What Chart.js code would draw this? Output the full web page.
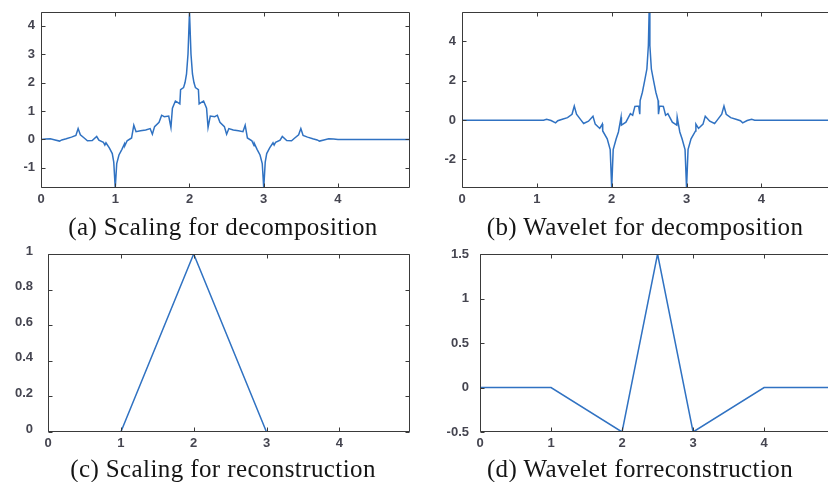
<!DOCTYPE html>
<html>
<head>
<meta charset="utf-8">
<script src="https://cdn.jsdelivr.net/npm/chart.js@4"></script>
<style>
  body { margin: 0; width: 828px; height: 482px; overflow: hidden; background: #fff; position: relative; }
  .panel { position: absolute; }
  .cap { position: absolute; font: 25px "Liberation Serif", "Times New Roman", serif; letter-spacing: 0.4px; color: #151515; white-space: nowrap; transform: translateX(-50%); line-height: 28px; }
</style>
</head>
<body>
<div class="panel" id="pa"><canvas id="ca"></canvas></div>
<div class="panel" id="pb"><canvas id="cb"></canvas></div>
<div class="panel" id="pc"><canvas id="cc"></canvas></div>
<div class="panel" id="pd"><canvas id="cd"></canvas></div>
<div class="cap" id="ta"></div>
<div class="cap" id="tb"></div>
<div class="cap" id="tc"></div>
<div class="cap" id="td"></div>
<script>
// x ticks shared by all four panels
var xTicks = [0, 1, 2, 3, 4];

// (a) decomposition scaling function
var scalingDecX = [0, 0.06, 0.125, 0.19, 0.25, 0.28, 0.34, 0.41, 0.47, 0.5, 0.53, 0.59, 0.625, 0.69, 0.75, 0.78, 0.84, 0.86, 0.875, 0.92, 0.96, 0.98, 1,
  1.02, 1.05, 1.09, 1.125, 1.13, 1.16, 1.22, 1.25, 1.28, 1.34, 1.41, 1.47, 1.5, 1.53, 1.59, 1.625, 1.66, 1.72, 1.75, 1.77, 1.81, 1.84, 1.87, 1.88, 1.92, 1.94, 1.96, 1.98, 2,
  2.02, 2.04, 2.06, 2.08, 2.12, 2.13, 2.16, 2.19, 2.23, 2.25, 2.28, 2.34, 2.375, 2.41, 2.47, 2.5, 2.53, 2.59, 2.66, 2.72, 2.75, 2.78, 2.84, 2.87, 2.875, 2.91, 2.95, 2.98, 3,
  3.02, 3.04, 3.08, 3.125, 3.14, 3.16, 3.22, 3.25, 3.31, 3.375, 3.41, 3.47, 3.5, 3.53, 3.59, 3.66, 3.72, 3.75, 3.81, 3.875, 3.94, 4, 4.97];
var scalingDecY = [0, 0.01, 0.02, -0.02, -0.06, -0.02, 0.02, 0.08, 0.14, 0.38, 0.16, 0.03, -0.05, -0.04, 0.1, -0.03, -0.1, -0.2, -0.12, -0.3, -0.5, -0.8, -1.71,
  -0.85, -0.55, -0.35, -0.15, -0.22, -0.05, 0.05, 0.5, 0.27, 0.3, 0.33, 0.38, 0.18, 0.45, 0.6, 0.85, 0.8, 0.82, 0.42, 1.1, 1.35, 1.3, 1.25, 1.75, 1.82, 2.0, 2.3, 3.0, 4.48,
  3.0, 2.3, 2.0, 1.82, 1.75, 1.25, 1.3, 1.35, 1.1, 0.42, 0.82, 0.8, 0.85, 0.6, 0.45, 0.18, 0.38, 0.33, 0.3, 0.27, 0.5, 0.05, -0.05, -0.22, -0.15, -0.35, -0.55, -0.85, -1.71,
  -0.8, -0.5, -0.3, -0.12, -0.2, -0.1, -0.03, 0.1, -0.04, -0.05, 0.03, 0.16, 0.38, 0.14, 0.08, 0.02, -0.02, -0.06, -0.02, 0.02, 0.01, 0, 0];
var scalingDecTicks = [-1, 0, 1, 2, 3, 4];

// (b) decomposition wavelet
var waveletDecX = [0, 1, 1.09, 1.13, 1.19, 1.25, 1.28, 1.34, 1.41, 1.47, 1.5, 1.53, 1.59, 1.625, 1.69, 1.75, 1.78, 1.84, 1.875, 1.88, 1.94, 1.98, 2,
  2.02, 2.06, 2.09, 2.125, 2.13, 2.19, 2.25, 2.28, 2.31, 2.36, 2.375, 2.38, 2.41, 2.44, 2.47, 2.49, 2.5,
  2.51, 2.53, 2.56, 2.59, 2.62, 2.625, 2.64, 2.69, 2.72, 2.75, 2.81, 2.87, 2.875, 2.91, 2.94, 2.98, 3,
  3.02, 3.06, 3.12, 3.125, 3.16, 3.22, 3.25, 3.31, 3.375, 3.41, 3.47, 3.5, 3.53, 3.59, 3.66, 3.72, 3.75, 3.81, 3.87, 3.91, 4, 4.97];
var waveletDecY = [0, 0, 0, 0.04, -0.02, -0.14, -0.03, 0.05, 0.13, 0.3, 0.72, 0.3, 0, -0.17, -0.05, 0.2, -0.2, -0.42, -0.2, -0.55, -0.95, -1.5, -3.45,
  -1.5, -0.95, -0.6, 0.15, -0.25, -0.1, 0.33, 0.25, 0.7, 0.72, 0.3, 1.0, 1.42, 2.0, 2.6, 3.8, 5.5,
  3.8, 2.6, 2.0, 1.42, 1.0, 0.3, 0.72, 0.7, 0.25, 0.33, -0.1, -0.25, 0.15, -0.6, -0.95, -1.5, -3.45,
  -1.5, -0.95, -0.55, -0.2, -0.42, -0.2, 0.2, -0.05, -0.17, 0, 0.3, 0.72, 0.3, 0.13, 0.05, -0.03, -0.14, -0.02, 0.04, 0, 0, 0];
var waveletDecTicks = [-2, 0, 2, 4];

// (c) reconstruction scaling function
var scalingRecX = [0, 1, 2, 3, 4, 4.97];
var scalingRecY = [0, 0, 1, 0, 0, 0];
var scalingRecTicks = [0, 0.2, 0.4, 0.6, 0.8, 1];

// (d) reconstruction wavelet
var waveletRecX = [0, 1, 2, 2.5, 3, 4, 4.97];
var waveletRecY = [0, 0, -0.5, 1.5, -0.5, 0, 0];
var waveletRecTicks = [-0.5, 0, 0.5, 1, 1.5];

var captions = ['(a) Scaling for decomposition', '(b) Wavelet for decomposition',
  '(c) Scaling for reconstruction', '(d) Wavelet forreconstruction'];

// box around the plot area with inward tick marks on all four sides
var frameTicks = {
  id: 'frameTicks',
  afterDatasetsDraw: function (chart) {
    var ctx = chart.ctx, a = chart.chartArea, x = chart.scales.x, y = chart.scales.y;
    var L = Math.round(a.left) + 0.5, R = Math.round(a.right) - 0.5;
    var T = Math.round(a.top) + 0.5, B = Math.round(a.bottom) - 0.5;
    ctx.save();
    ctx.strokeStyle = '#3a3a3a';
    ctx.lineWidth = 1;
    ctx.beginPath();
    ctx.rect(L, T, R - L, B - T);
    x.ticks.forEach(function (t) {
      var p = Math.round(x.getPixelForValue(t.value)) + 0.5;
      ctx.moveTo(p, B); ctx.lineTo(p, B - 4);
      ctx.moveTo(p, T); ctx.lineTo(p, T + 4);
    });
    y.ticks.forEach(function (t) {
      var p = Math.round(y.getPixelForValue(t.value)) + 0.5;
      ctx.moveTo(L, p); ctx.lineTo(L + 4, p);
      ctx.moveTo(R, p); ctx.lineTo(R - 4, p);
    });
    ctx.stroke();
    ctx.restore();
  }
};

var tickFont = { family: '"Liberation Sans", Arial, sans-serif', size: 13, weight: 'bold' };
var tickColor = '#454550';

function makeChart(id, xs, ys, yMin, yMax, yTicks, axisW, yPad, labelShift) {
  var pts = xs.map(function (v, i) { return { x: v, y: ys[i] }; });
  return new Chart(document.getElementById(id), {
    type: 'line',
    data: {
      datasets: [{
        data: pts,
        borderColor: '#3072c2',
        borderWidth: 1.5,
        pointRadius: 0,
        tension: 0
      }]
    },
    options: {
      responsive: true,
      maintainAspectRatio: false,
      animation: false,
      layout: { padding: { top: 10, left: 0, right: 0, bottom: 0 } },
      plugins: { legend: { display: false }, tooltip: { enabled: false } },
      scales: {
        x: {
          type: 'linear', min: 0, max: 4.97,
          grid: { display: false, drawTicks: false }, border: { display: false },
          ticks: { font: tickFont, color: tickColor, padding: 4, maxRotation: 0,
            callback: function (v) { return String(v); } },
          afterBuildTicks: function (s) { s.ticks = xTicks.map(function (v) { return { value: v }; }); },
          afterFit: function (s) { s.height = 30; s.paddingLeft = 0; s.paddingRight = 0; }
        },
        y: {
          type: 'linear', min: yMin, max: yMax,
          grid: { display: false, drawTicks: false }, border: { display: false },
          ticks: { font: tickFont, color: tickColor, padding: yPad, labelOffset: labelShift,
            callback: function (v) { return String(v); } },
          afterBuildTicks: function (s) { s.ticks = yTicks.map(function (v) { return { value: v }; }); },
          afterFit: function (s) { s.width = axisW; s.paddingTop = 0; s.paddingBottom = 0; }
        }
      }
    },
    plugins: [frameTicks]
  });
}

function place(id, left, top, w, h) {
  var el = document.getElementById(id);
  el.style.left = left + 'px'; el.style.top = top + 'px';
  el.style.width = w + 'px'; el.style.height = h + 'px';
}

place('pa', 0, 2, 410, 216);
place('pb', 420, 2, 414, 216);
place('pc', 0, 244, 410, 218);
place('pd', 420, 244, 413, 218);

makeChart('ca', scalingDecX, scalingDecY, -1.71, 4.48, scalingDecTicks, 41, 6, 0);
makeChart('cb', waveletDecX, waveletDecY, -3.45, 5.5, waveletDecTicks, 42, 6, 0);
makeChart('cc', scalingRecX, scalingRecY, 0, 1, scalingRecTicks, 48, 15, -3);
makeChart('cd', waveletRecX, waveletRecY, -0.5, 1.5, waveletRecTicks, 60, 11, 0);

var capPos = [[223, 213], [645, 213], [223, 455], [640, 455]];
['ta', 'tb', 'tc', 'td'].forEach(function (id, i) {
  var el = document.getElementById(id);
  el.textContent = captions[i];
  el.style.left = capPos[i][0] + 'px';
  el.style.top = capPos[i][1] + 'px';
});
</script>
</body>
</html>
